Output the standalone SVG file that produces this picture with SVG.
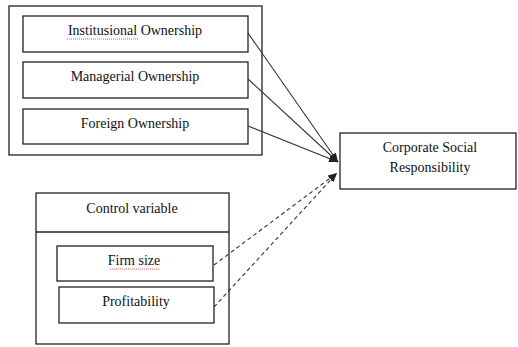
<svg xmlns="http://www.w3.org/2000/svg" width="518" height="347" viewBox="0 0 518 347">
<style>
.box{fill:#fff;stroke:#222;stroke-width:1.3}
.t{fill:#111;text-anchor:middle}
.c{fill:none;stroke:#333;stroke-width:1.1}
.d{stroke-dasharray:4,3}
.sq{fill:none;stroke:#d33;stroke-width:0.8;stroke-dasharray:1,1}
</style>
<defs>
<marker id="ah" viewBox="0 0 10 10" refX="10" refY="5" markerWidth="9" markerHeight="9" markerUnits="userSpaceOnUse" orient="auto">
<path d="M0,1 L10,5 L0,9 Z" fill="#222"/>
</marker>
</defs>
<rect width="518" height="347" fill="#fff"/>
<g font-family="'Liberation Serif', 'Times New Roman', serif" font-size="14">
<g id="ownership-group">
<rect class="box" x="9" y="6" width="253" height="149"/>
</g>
<g id="institutional">
<rect class="box" x="23" y="16" width="225" height="36"/>
<text class="t" x="135" y="35">Institusional Ownership</text>
<path class="sq" d="M67,39 L139,39"/>
</g>
<g id="managerial">
<rect class="box" x="23" y="62" width="225" height="36"/>
<text class="t" x="135" y="81">Managerial Ownership</text>
</g>
<g id="foreign">
<rect class="box" x="23" y="109" width="225" height="35"/>
<text class="t" x="135" y="128">Foreign Ownership</text>
</g>
<g id="csr">
<rect class="box" x="340" y="133" width="176" height="56"/>
<text class="t" x="430" y="152">Corporate Social</text>
<text class="t" x="430" y="172">Responsibility</text>
</g>
<g id="control">
<rect class="box" x="36" y="193" width="193" height="151"/>
<line x1="36" y1="232" x2="229" y2="232" stroke="#222" stroke-width="1.3"/>
<text class="t" x="132" y="213">Control variable</text>
</g>
<g id="firm-size">
<rect class="box" x="57" y="246" width="156" height="35"/>
<text class="t" x="134" y="265">Firm size</text>
<path class="sq" d="M110,269 L160,269"/>
</g>
<g id="profitability">
<rect class="box" x="59" y="287" width="155" height="36"/>
<text class="t" x="136" y="306">Profitability</text>
</g>
</g>
<g id="connectors">
<line class="c" x1="248" y1="33" x2="338" y2="162" marker-end="url(#ah)"/>
<line class="c" x1="248" y1="79" x2="338" y2="162" marker-end="url(#ah)"/>
<line class="c" x1="248" y1="126" x2="338" y2="162" marker-end="url(#ah)"/>
<line class="c d" x1="214" y1="265" x2="337" y2="173" marker-end="url(#ah)"/>
<line class="c d" x1="214" y1="307" x2="337" y2="173" marker-end="url(#ah)"/>
</g>
</svg>
